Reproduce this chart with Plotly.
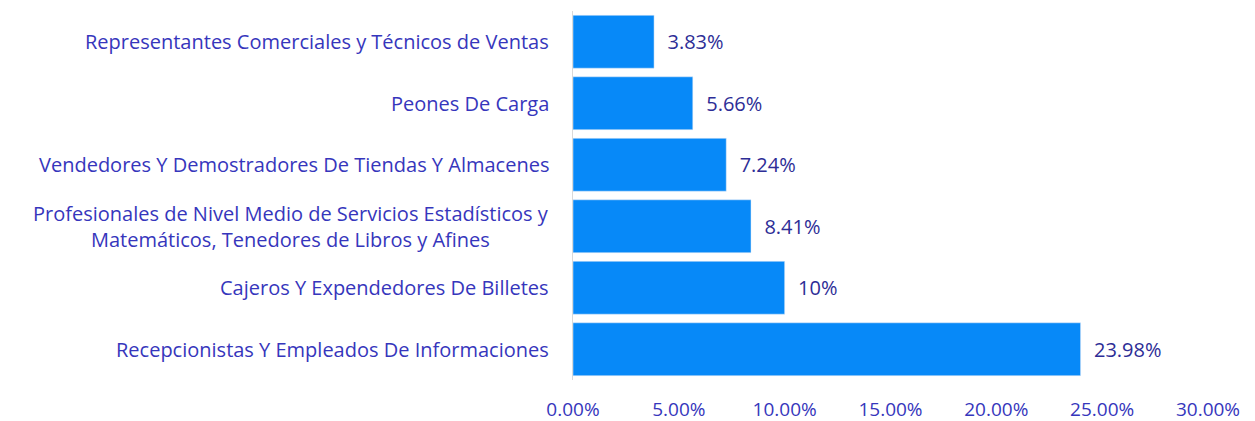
import plotly.graph_objects as go

categories = [
    "Representantes Comerciales y Técnicos de Ventas",
    "Peones De Carga",
    "Vendedores Y Demostradores De Tiendas Y Almacenes",
    "Profesionales de Nivel Medio de Servicios Estadísticos y<br>Matemáticos, Tenedores de Libros y Afines",
    "Cajeros Y Expendedores De Billetes",
    "Recepcionistas Y Empleados De Informaciones",
]
values = [0.0383, 0.0566, 0.0724, 0.0841, 0.10, 0.2398]
tick_vals = [0, 0.05, 0.10, 0.15, 0.20, 0.25, 0.30]

FONT = "Open Sans"
LABEL_COLOR = "#3636BC"
VALUE_COLOR = "#2D2D96"

fig = go.Figure(
    go.Bar(
        y=categories,
        x=values,
        orientation="h",
        marker=dict(color="#0789F8"),
        texttemplate="\u00a0\u00a0%{x:.2~%}",
        textposition="outside",
        textfont=dict(family=FONT, size=20, color=VALUE_COLOR),
        cliponaxis=False,
    )
)

annotations = [
    dict(
        xref="paper", yref="y", x=0, y=c, text=c, xanchor="right", yanchor="middle",
        xshift=-22, align="center", showarrow=False,
        font=dict(family=FONT, size=20, color=LABEL_COLOR),
    )
    for c in categories
]

fig.update_layout(
    width=1255, height=421,
    margin=dict(l=565, r=55, t=3, b=49),
    paper_bgcolor="white", plot_bgcolor="white",
    bargap=0.14,
    showlegend=False,
    annotations=annotations,
    xaxis=dict(
        range=[0, 0.30], tickvals=tick_vals, tickformat=".2%",
        showgrid=False, zeroline=False, showline=False,
        tickfont=dict(family=FONT, size=19, color=LABEL_COLOR),
        ticklabelstandoff=16,
    ),
    yaxis=dict(
        autorange="reversed", showticklabels=False, showgrid=False,
        zeroline=False, showline=True, linecolor="#D9D9D9", linewidth=1,
    ),
)

fig.write_html("out.html")
